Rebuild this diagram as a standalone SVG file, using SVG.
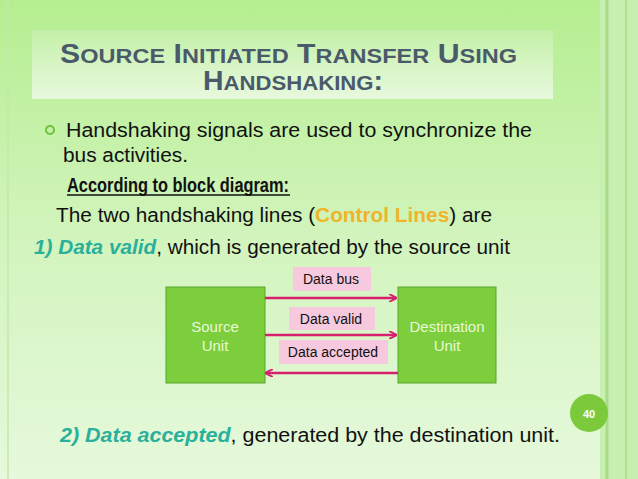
<svg xmlns="http://www.w3.org/2000/svg" width="638" height="479" viewBox="0 0 638 479">
<defs>
<linearGradient id="bg" x1="0" y1="0" x2="0" y2="1"><stop offset="0" stop-color="#b5ee90"/><stop offset="0.5" stop-color="#d2f4bd"/><stop offset="1" stop-color="#e6f9dc"/></linearGradient>
<linearGradient id="tb" x1="0" y1="0" x2="0" y2="1"><stop offset="0" stop-color="#c4f0a8"/><stop offset="1" stop-color="#e8f9de"/></linearGradient>
<marker id="ah" markerWidth="8" markerHeight="8" refX="7" refY="4" orient="auto" markerUnits="userSpaceOnUse"><path d="M0,0 L8,4 L0,8" fill="none" stroke="#d6206e" stroke-width="2"/></marker>
<style>
text{font-family:"Liberation Sans",Arial,sans-serif}
.t{fill:#4b5a6a;font-weight:bold}
.b{font-size:20px;fill:#111}
.g{fill:#2ab09a;font-weight:bold;font-style:italic}
.box{fill:#7cce3c;stroke:#5aa62a;stroke-width:1}
.bt{fill:#e8f8d8;font-size:15px;text-anchor:middle}
.lb{fill:#f7c9de}
.lt{font-size:14px;fill:#111;text-anchor:middle}
.c{stroke:#d6206e;stroke-width:2.5;fill:none;marker-end:url(#ah)}
</style>
</defs>
<rect width="638" height="479" fill="url(#bg)"/>
<rect x="600" y="0" width="38" height="479" fill="#c8eeb0"/>
<line x1="607" y1="0" x2="607" y2="479" stroke="#a8dc88" stroke-width="3"/>
<line x1="626" y1="0" x2="626" y2="479" stroke="#a8dc88" stroke-width="1.5"/>
<line x1="8" y1="0" x2="8" y2="479" stroke="#c2e8aa" stroke-width="1.5"/>
<rect x="32" y="30" width="521" height="69" fill="url(#tb)"/>
<text x="60" y="63" class="t" font-size="27" textLength="457" lengthAdjust="spacingAndGlyphs">S<tspan font-size="21">OURCE</tspan> I<tspan font-size="21">NITIATED</tspan> T<tspan font-size="21">RANSFER</tspan> U<tspan font-size="21">SING</tspan></text>
<text x="203" y="90" class="t" font-size="27" textLength="180" lengthAdjust="spacingAndGlyphs">H<tspan font-size="21">ANDSHAKING</tspan>:</text>
<circle cx="50" cy="130" r="4" fill="none" stroke="#6cc23a" stroke-width="2"/>
<text x="66" y="137" class="b" textLength="466" lengthAdjust="spacingAndGlyphs">Handshaking signals are used to synchronize the</text>
<text x="63" y="162" class="b" textLength="125" lengthAdjust="spacingAndGlyphs">bus activities.</text>
<text x="67" y="192" class="b" font-weight="bold" textLength="222" lengthAdjust="spacingAndGlyphs">According to block diagram:</text>
<line x1="67" y1="195" x2="290" y2="195" stroke="#111" stroke-width="1.5"/>
<text x="56" y="222" class="b" textLength="436" lengthAdjust="spacingAndGlyphs">The two handshaking lines (<tspan fill="#f0b429" font-weight="bold">Control Lines</tspan>) are</text>
<text x="34" y="254" class="b" textLength="476" lengthAdjust="spacingAndGlyphs"><tspan class="g">1) Data valid</tspan>, which is generated by the source unit</text>
<g id="source"><rect class="box" x="166" y="287" width="99" height="96"/><text class="bt" x="215" y="332">Source</text><text class="bt" x="215" y="351">Unit</text></g>
<g id="dest"><rect class="box" x="398" y="287" width="98" height="96"/><text class="bt" x="447" y="332">Destination</text><text class="bt" x="447" y="351">Unit</text></g>
<g id="labels">
<rect class="lb" x="293" y="267" width="78" height="24"/><text class="lt" x="331" y="284">Data bus</text>
<rect class="lb" x="289" y="307" width="86" height="23"/><text class="lt" x="331" y="324">Data valid</text>
<rect class="lb" x="279" y="340" width="109" height="24"/><text class="lt" x="333" y="357">Data accepted</text>
</g>
<g id="connectors">
<line class="c" x1="265" y1="298" x2="396" y2="298"/>
<line class="c" x1="265" y1="335" x2="396" y2="335"/>
<line class="c" x1="398" y1="373" x2="266" y2="373"/>
</g>
<text x="60" y="442" class="b" textLength="500" lengthAdjust="spacingAndGlyphs"><tspan class="g">2)  Data accepted</tspan>, generated by the destination unit.</text>
<circle cx="589" cy="413" r="19" fill="#7cc93c"/>
<text x="589" y="418" text-anchor="middle" font-size="11" fill="#fff" font-weight="bold">40</text>
</svg>
